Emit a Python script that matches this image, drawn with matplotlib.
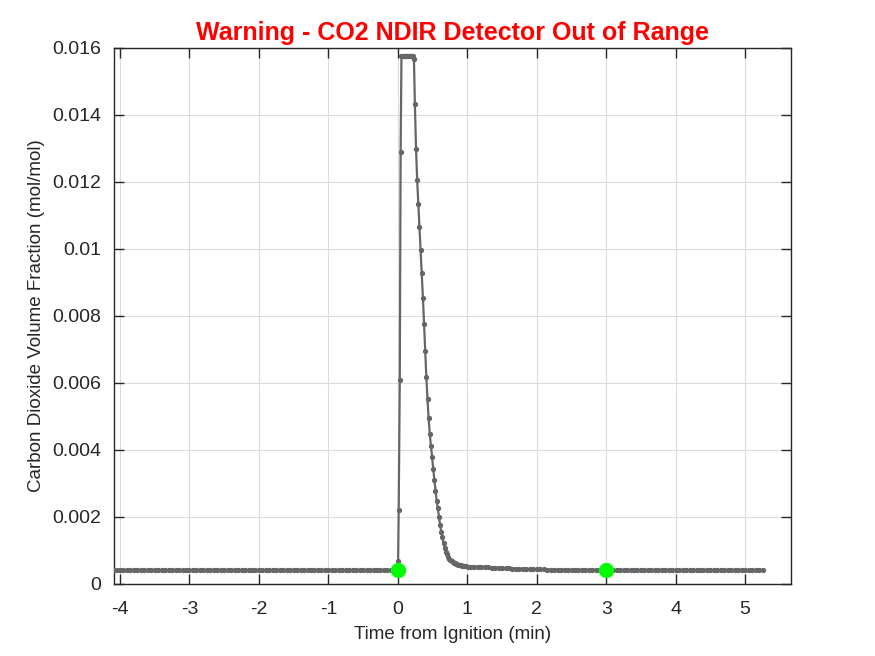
import matplotlib
matplotlib.use("Agg")
import matplotlib.pyplot as plt

plt.rcParams['font.family'] = ['Liberation Sans', 'DejaVu Sans']

# time from ignition (min) and CO2 volume fraction (mol/mol)
t_pre = [-4.09, -4.05, -4.0, -3.95, -3.9, -3.85, -3.8, -3.75, -3.7, -3.65, -3.6, -3.55,
         -3.5, -3.45, -3.4, -3.35, -3.3, -3.25, -3.2, -3.15, -3.1, -3.05,
         -3.0, -2.95, -2.9, -2.85, -2.8, -2.75, -2.7, -2.65, -2.6, -2.55,
         -2.5, -2.45, -2.4, -2.35, -2.3, -2.25, -2.2, -2.15, -2.1, -2.05,
         -2.0, -1.95, -1.9, -1.85, -1.8, -1.75, -1.7, -1.65, -1.6, -1.55,
         -1.5, -1.45, -1.4, -1.35, -1.3, -1.25, -1.2, -1.15, -1.1, -1.05,
         -1.0, -0.95, -0.9, -0.85, -0.8, -0.75, -0.7, -0.65, -0.6, -0.55,
         -0.5, -0.45, -0.4, -0.35, -0.3, -0.25, -0.2, -0.15, -0.1, -0.05]
co2_pre = [0.00042, 0.00042, 0.00042, 0.00042, 0.00042, 0.00042, 0.00042, 0.00042, 0.00042, 0.00042, 0.00042, 0.00042,
           0.00042, 0.00042, 0.00042, 0.00042, 0.00042, 0.00042, 0.00042, 0.00042, 0.00042, 0.00042,
           0.00042, 0.00042, 0.00042, 0.00042, 0.00042, 0.00042, 0.00042, 0.00042, 0.00042, 0.00042,
           0.00042, 0.00042, 0.00042, 0.00042, 0.00042, 0.00042, 0.00042, 0.00042, 0.00042, 0.00042,
           0.00042, 0.00042, 0.00042, 0.00042, 0.00042, 0.00042, 0.00042, 0.00042, 0.00042, 0.00042,
           0.00042, 0.00042, 0.00042, 0.00042, 0.00042, 0.00042, 0.00042, 0.00042, 0.00042, 0.00042,
           0.00042, 0.00042, 0.00042, 0.00042, 0.00042, 0.00042, 0.00042, 0.00042, 0.00042, 0.00042,
           0.00042, 0.00042, 0.00042, 0.00042, 0.00042, 0.00042, 0.00042, 0.00042, 0.00042, 0.00042]

t_peak = [0.0, 0.004, 0.012, 0.028, 0.04, 0.052, 0.068, 0.085, 0.102, 0.118, 0.135,
          0.152, 0.168, 0.185, 0.202, 0.218, 0.232,
          0.245, 0.262, 0.278, 0.295, 0.311, 0.328, 0.344, 0.361, 0.377, 0.394,
          0.410, 0.427, 0.443, 0.460, 0.476, 0.493, 0.509, 0.526, 0.542, 0.559,
          0.575, 0.592, 0.608, 0.625, 0.641, 0.658, 0.674, 0.691, 0.707, 0.724,
          0.740, 0.757, 0.773, 0.790, 0.806, 0.823, 0.839, 0.856, 0.872, 0.889,
          0.905, 0.922, 0.938, 0.955, 0.971, 0.988, 1.004]
co2_peak = [0.00042, 0.0007, 0.0022, 0.0061, 0.0129, 0.01575, 0.01575, 0.01575, 0.01575, 0.01575, 0.01575,
            0.01575, 0.01575, 0.01575, 0.01575, 0.01575, 0.01566,
            0.01433, 0.01299, 0.01206, 0.01134, 0.01066, 0.00997, 0.00928, 0.00854, 0.00776, 0.00696,
            0.00619, 0.00551, 0.00494, 0.00448, 0.00412, 0.00379, 0.00344, 0.00311, 0.00278, 0.00248,
            0.00226, 0.00200, 0.00177, 0.00156, 0.00139, 0.00121, 0.00106, 0.00096, 0.00089, 0.00082,
            0.00076, 0.00072, 0.00069, 0.00066, 0.00064, 0.00062, 0.00060, 0.00059, 0.00058, 0.00057,
            0.00056, 0.00055, 0.00054, 0.00054, 0.00053, 0.00053, 0.00052]

t_post = [1.05, 1.1, 1.15, 1.2, 1.25, 1.3, 1.35, 1.4, 1.45, 1.5, 1.55, 1.6, 1.65, 1.7, 1.75, 1.8, 1.85, 1.9, 1.95,
          2.0, 2.05, 2.1, 2.15, 2.2, 2.25, 2.3, 2.35, 2.4, 2.45, 2.5, 2.55, 2.6, 2.65, 2.7, 2.75, 2.8, 2.85, 2.9, 2.95,
          3.0, 3.05, 3.1, 3.15, 3.2, 3.25, 3.3, 3.35, 3.4, 3.45, 3.5, 3.55, 3.6, 3.65, 3.7, 3.75, 3.8, 3.85, 3.9, 3.95,
          4.0, 4.05, 4.1, 4.15, 4.2, 4.25, 4.3, 4.35, 4.4, 4.45, 4.5, 4.55, 4.6, 4.65, 4.7, 4.75, 4.8, 4.85, 4.9, 4.95,
          5.0, 5.05, 5.1, 5.15, 5.2, 5.26]
co2_post = [0.00052, 0.00051, 0.00051, 0.00051, 0.00050, 0.00050, 0.00049, 0.00049, 0.00048, 0.00048, 0.00047,
            0.00047, 0.00046, 0.00046, 0.00045, 0.00045, 0.00045, 0.00045, 0.00044,
            0.00044, 0.00044, 0.00044, 0.00043, 0.00043, 0.00043, 0.00043, 0.00043, 0.00043, 0.00043,
            0.00042, 0.00042, 0.00042, 0.00042, 0.00042, 0.00042, 0.00042, 0.00042, 0.00042, 0.00042,
            0.00042, 0.00042, 0.00042, 0.00042, 0.00042, 0.00042, 0.00042, 0.00042, 0.00042, 0.00042,
            0.00042, 0.00042, 0.00042, 0.00042, 0.00042, 0.00042, 0.00042, 0.00042, 0.00042, 0.00042,
            0.00042, 0.00042, 0.00042, 0.00042, 0.00042, 0.00042, 0.00042, 0.00042, 0.00042, 0.00042,
            0.00042, 0.00042, 0.00042, 0.00042, 0.00042, 0.00042, 0.00042, 0.00042, 0.00042, 0.00042,
            0.00042, 0.00042, 0.00042, 0.00042, 0.00042, 0.00042]

# ignition and end-of-test markers
t_events = [0.0, 3.0]
co2_events = [0.00042, 0.00042]

x_ticks = [-4, -3, -2, -1, 0, 1, 2, 3, 4, 5]
y_ticks = [0, 0.002, 0.004, 0.006, 0.008, 0.01, 0.012, 0.014, 0.016]
y_ticklabels = ['0', '0.002', '0.004', '0.006', '0.008', '0.01', '0.012', '0.014', '0.016']

time = t_pre + t_peak + t_post
co2 = co2_pre + co2_peak + co2_post

txt = '#262626'
fig = plt.figure(figsize=(8.75, 6.56), dpi=100)
ax = fig.add_axes([0.13, 0.1098, 0.774, 0.8171])

ax.plot(time, co2, color='#666666', lw=1.6, marker='o', ms=2.8, zorder=3)
ax.plot(t_events, co2_events, linestyle='none', marker='o', ms=10,
        color='#00ff00', zorder=4)

ax.set_xlim(-4.09, 5.66)
ax.set_ylim(0, 0.016)
ax.set_xticks(x_ticks)
ax.set_xticklabels([str(v) for v in x_ticks])
ax.set_yticks(y_ticks)
ax.set_yticklabels(y_ticklabels)

ax.grid(True, color='#dcdcdc', lw=0.8)
ax.set_axisbelow(True)
ax.tick_params(direction='in', length=7, width=1, top=True, right=True,
               colors=txt, labelsize=14)
ax.tick_params(axis='x', pad=12.5)
ax.tick_params(axis='y', pad=9)
for s in ax.spines.values():
    s.set_color(txt)
    s.set_linewidth(1)

ax.set_xlabel('Time from Ignition (min)', fontsize=13.5, color=txt, labelpad=5.5)
ax.set_ylabel('Carbon Dioxide Volume Fraction (mol/mol)', fontsize=13.5, color=txt, labelpad=5)
ax.set_title('Warning - CO2 NDIR Detector Out of Range', fontsize=18,
             fontweight='bold', color='red', pad=6)

fig.savefig('out.png', dpi=100)
